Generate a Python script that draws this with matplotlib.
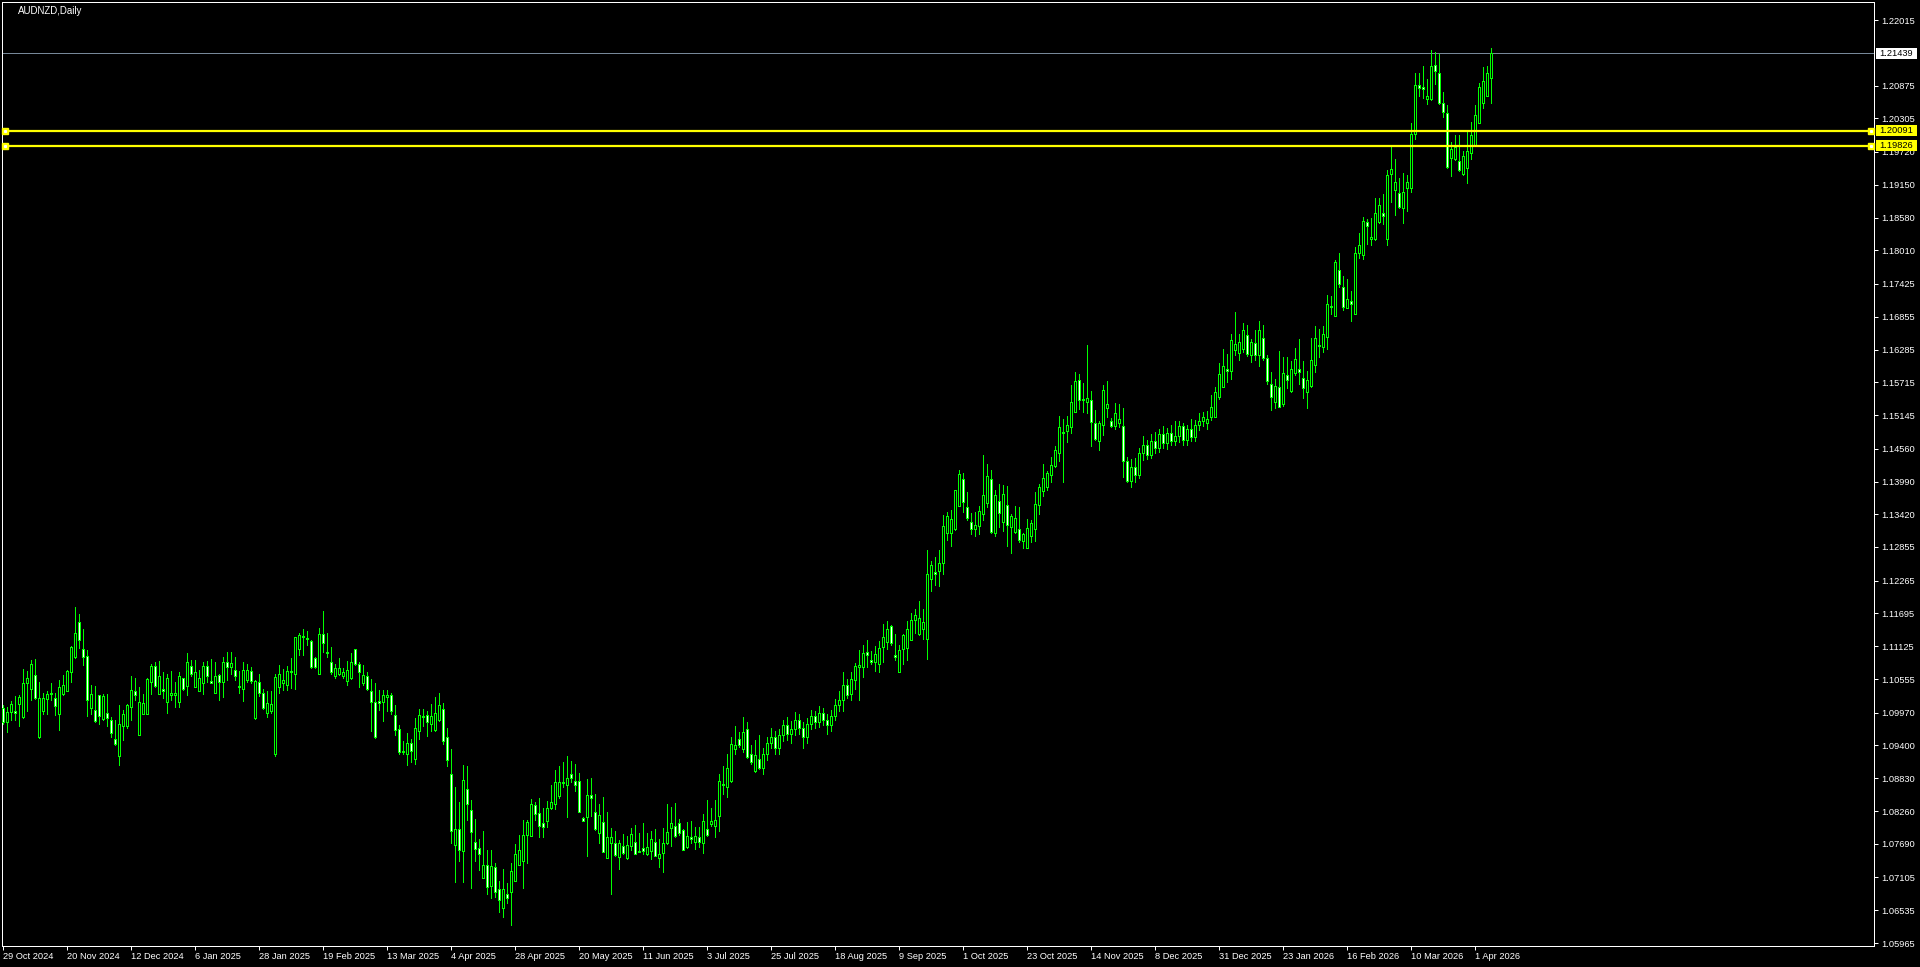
import numpy as np
import matplotlib.pyplot as plt
from matplotlib.patches import Rectangle
from matplotlib.transforms import blended_transform_factory

# AUDNZD daily candles, 29 Oct 2024 .. 7 Apr 2026
opens = [
    1.1005, 1.0980, 1.0999, 1.1000, 1.1012, 1.0989, 1.1048, 1.1038, 1.1062, 1.0955,
    1.1000, 1.1021, 1.1029, 1.1022, 1.0995, 1.1029, 1.1035, 1.1068, 1.1093, 1.1154,
    1.1107, 1.1096, 1.1006, 1.1002, 1.1027, 1.0986, 1.0996, 1.0985, 1.0952, 1.0922,
    1.0974, 1.0973, 1.1007, 1.1034, 1.0959, 1.0995, 1.0995, 1.1051, 1.1078, 1.1030,
    1.1038, 1.1016, 1.1027, 1.1028, 1.1016, 1.1057, 1.1044, 1.1078, 1.1042, 1.1035,
    1.1049, 1.1078, 1.1052, 1.1032, 1.1062, 1.1050, 1.1086, 1.1077, 1.1072, 1.1043,
    1.1039, 1.1053, 1.1069, 1.0987, 1.1050, 1.1032, 1.0997, 1.1000, 1.0926, 1.1042,
    1.1048, 1.1046, 1.1067, 1.1065, 1.1108, 1.1130, 1.1127, 1.1121, 1.1092, 1.1065,
    1.1133, 1.1103, 1.1085, 1.1060, 1.1064, 1.1060, 1.1052, 1.1057, 1.1107, 1.1081,
    1.1049, 1.1060, 1.1034, 1.1015, 1.1017, 1.1016, 1.1025, 1.1028, 1.0993, 1.0968,
    1.0930, 1.0926, 1.0944, 1.0916, 1.0966, 1.0990, 1.0993, 1.0978, 1.0967, 1.0984,
    1.1004, 1.0955, 1.0890, 1.0767, 1.0794, 1.0757, 1.0865, 1.0827, 1.0772, 1.0761,
    1.0710, 1.0733, 1.0695, 1.0728, 1.0690, 1.0658, 1.0681, 1.0686, 1.0705, 1.0733,
    1.0739, 1.0784, 1.0783, 1.0836, 1.0822, 1.0806, 1.0809, 1.0832, 1.0838, 1.0853,
    1.0876, 1.0872, 1.0890, 1.0878, 1.0879, 1.0814, 1.0816, 1.0854, 1.0825, 1.0788,
    1.0807, 1.0745, 1.0770, 1.0770, 1.0746, 1.0765, 1.0744, 1.0766, 1.0773, 1.0757,
    1.0761, 1.0751, 1.0757, 1.0773, 1.0745, 1.0753, 1.0770, 1.0797, 1.0800, 1.0805,
    1.0793, 1.0763, 1.0780, 1.0773, 1.0781, 1.0771, 1.0794, 1.0803, 1.0800, 1.0818,
    1.0873, 1.0868, 1.0878, 1.0934, 1.0951, 1.0934, 1.0968, 1.0925, 1.0895, 1.0917,
    1.0900, 1.0925, 1.0945, 1.0955, 1.0935, 1.0958, 1.0975, 1.0960, 1.0968, 1.0985,
    1.0970, 1.0955, 1.0978, 1.0992, 1.0980, 1.0996, 1.0985, 1.0975, 1.0992, 1.1010,
    1.1019, 1.1046, 1.1030, 1.1054, 1.1077, 1.1076, 1.1102, 1.1088, 1.1085, 1.1081,
    1.1112, 1.1120, 1.1148, 1.1097, 1.1068, 1.1107, 1.1110, 1.1124, 1.1158, 1.1134,
    1.1142, 1.1126, 1.1230, 1.1242, 1.1244, 1.1258, 1.1310, 1.1309, 1.1316, 1.1357,
    1.1404, 1.1354, 1.1328, 1.1316, 1.1321, 1.1342, 1.1361, 1.1404, 1.1310, 1.1365,
    1.1328, 1.1358, 1.1320, 1.1312, 1.1316, 1.1296, 1.1284, 1.1305, 1.1316, 1.1359,
    1.1383, 1.1390, 1.1411, 1.1426, 1.1448, 1.1485, 1.1486, 1.1494, 1.1520, 1.1576,
    1.1542, 1.1538, 1.1541, 1.1500, 1.1470, 1.1498, 1.1527, 1.1504, 1.1496, 1.1500,
    1.1495, 1.1435, 1.1400, 1.1425, 1.1410, 1.1448, 1.1462, 1.1445, 1.1470, 1.1458,
    1.1482, 1.1466, 1.1484, 1.1470, 1.1478, 1.1496, 1.1472, 1.1490, 1.1476, 1.1498,
    1.1505, 1.1500, 1.1512, 1.1512, 1.1546, 1.1564, 1.1594, 1.1592, 1.1628, 1.1623,
    1.1630, 1.1653, 1.1619, 1.1639, 1.1619, 1.1648, 1.1613, 1.1569, 1.1537, 1.1564,
    1.1534, 1.1585, 1.1556, 1.1587, 1.1595, 1.1579, 1.1554, 1.1565, 1.1601, 1.1636,
    1.1633, 1.1650, 1.1704, 1.1687, 1.1767, 1.1737, 1.1701, 1.1713, 1.1691, 1.1797,
    1.1793, 1.1850, 1.1820, 1.1820, 1.1851, 1.1866, 1.1821, 1.1933, 1.1906, 1.1900,
    1.1874, 1.1909, 1.1910, 1.2003, 1.2088, 1.2085, 1.2064, 1.2064, 1.2123, 1.2110,
    1.2058, 1.2039, 1.1961, 1.1959, 1.1956, 1.1933, 1.1945, 1.1971, 1.1984, 1.2023,
    1.2057, 1.2070, 1.2100,
]
highs = [
    1.1010, 1.1007, 1.1017, 1.1026, 1.1028, 1.1073, 1.1070, 1.1089, 1.1090, 1.1050,
    1.1031, 1.1035, 1.1048, 1.1031, 1.1054, 1.1062, 1.1072, 1.1113, 1.1180, 1.1169,
    1.1142, 1.1106, 1.1045, 1.1043, 1.1028, 1.1029, 1.1029, 1.0990, 1.0984, 1.1010,
    1.1002, 1.1012, 1.1061, 1.1058, 1.1042, 1.1029, 1.1058, 1.1082, 1.1085, 1.1087,
    1.1068, 1.1065, 1.1070, 1.1050, 1.1068, 1.1058, 1.1100, 1.1089, 1.1089, 1.1072,
    1.1085, 1.1087, 1.1090, 1.1086, 1.1065, 1.1094, 1.1103, 1.1103, 1.1093, 1.1070,
    1.1085, 1.1082, 1.1076, 1.1054, 1.1064, 1.1039, 1.1035, 1.1035, 1.1064, 1.1080,
    1.1073, 1.1079, 1.1092, 1.1129, 1.1135, 1.1143, 1.1139, 1.1123, 1.1094, 1.1144,
    1.1174, 1.1136, 1.1112, 1.1082, 1.1092, 1.1075, 1.1087, 1.1101, 1.1108, 1.1086,
    1.1080, 1.1068, 1.1055, 1.1049, 1.1036, 1.1036, 1.1036, 1.1031, 1.1010, 1.0976,
    1.0948, 1.0961, 1.0951, 1.0987, 1.1003, 1.1003, 1.1000, 1.1012, 1.1024, 1.1032,
    1.1013, 1.0970, 1.0934, 1.0868, 1.0841, 1.0906, 1.0904, 1.0846, 1.0813, 1.0777,
    1.0791, 1.0759, 1.0759, 1.0735, 1.0704, 1.0725, 1.0700, 1.0735, 1.0768, 1.0784,
    1.0810, 1.0810, 1.0847, 1.0842, 1.0848, 1.0832, 1.0843, 1.0871, 1.0897, 1.0904,
    1.0911, 1.0922, 1.0913, 1.0908, 1.0892, 1.0815, 1.0881, 1.0883, 1.0855, 1.0838,
    1.0850, 1.0824, 1.0796, 1.0791, 1.0775, 1.0786, 1.0782, 1.0796, 1.0802, 1.0788,
    1.0805, 1.0788, 1.0791, 1.0795, 1.0778, 1.0797, 1.0838, 1.0833, 1.0840, 1.0813,
    1.0794, 1.0807, 1.0809, 1.0799, 1.0799, 1.0821, 1.0845, 1.0832, 1.0845, 1.0890,
    1.0904, 1.0925, 1.0954, 1.0973, 1.0964, 1.0990, 1.0981, 1.0941, 1.0949, 1.0958,
    1.0935, 1.0955, 1.0970, 1.0965, 1.0968, 1.0985, 1.0990, 1.0982, 1.0998, 1.0995,
    1.0980, 1.0988, 1.1002, 1.1000, 1.1008, 1.1005, 1.0995, 1.1002, 1.1020, 1.1035,
    1.1068, 1.1055, 1.1068, 1.1084, 1.1106, 1.1114, 1.1123, 1.1104, 1.1113, 1.1121,
    1.1151, 1.1156, 1.1149, 1.1134, 1.1114, 1.1134, 1.1156, 1.1170, 1.1178, 1.1191,
    1.1177, 1.1280, 1.1261, 1.1267, 1.1280, 1.1341, 1.1346, 1.1349, 1.1385, 1.1419,
    1.1413, 1.1380, 1.1344, 1.1346, 1.1356, 1.1445, 1.1429, 1.1419, 1.1384, 1.1395,
    1.1393, 1.1391, 1.1342, 1.1356, 1.1355, 1.1310, 1.1334, 1.1332, 1.1381, 1.1395,
    1.1429, 1.1418, 1.1442, 1.1461, 1.1513, 1.1508, 1.1513, 1.1567, 1.1590, 1.1586,
    1.1570, 1.1636, 1.1556, 1.1523, 1.1505, 1.1566, 1.1573, 1.1510, 1.1536, 1.1534,
    1.1527, 1.1442, 1.1438, 1.1440, 1.1458, 1.1478, 1.1472, 1.1482, 1.1485, 1.1490,
    1.1495, 1.1492, 1.1498, 1.1505, 1.1504, 1.1500, 1.1498, 1.1508, 1.1506, 1.1518,
    1.1520, 1.1521, 1.1549, 1.1564, 1.1605, 1.1630, 1.1620, 1.1656, 1.1694, 1.1656,
    1.1674, 1.1672, 1.1646, 1.1662, 1.1678, 1.1671, 1.1619, 1.1590, 1.1578, 1.1626,
    1.1616, 1.1616, 1.1609, 1.1632, 1.1646, 1.1608, 1.1592, 1.1649, 1.1670, 1.1665,
    1.1670, 1.1723, 1.1721, 1.1784, 1.1797, 1.1757, 1.1751, 1.1731, 1.1807, 1.1831,
    1.1859, 1.1855, 1.1858, 1.1892, 1.1892, 1.1899, 1.1940, 1.1981, 1.1959, 1.1926,
    1.1936, 1.1932, 1.2022, 1.2109, 1.2110, 1.2121, 1.2099, 1.2149, 1.2145, 1.2143,
    1.2076, 1.2054, 1.1990, 1.2001, 1.2001, 1.1974, 1.2006, 1.2025, 1.2054, 1.2092,
    1.2119, 1.2121, 1.2153,
]
lows = [
    1.0978, 1.0964, 1.0984, 1.0984, 1.0973, 1.0988, 1.1000, 1.1019, 1.1021, 1.0953,
    1.0995, 1.0994, 1.1019, 1.0993, 1.0967, 1.1028, 1.1034, 1.1051, 1.1092, 1.1109,
    1.1080, 1.0991, 1.0995, 1.0981, 1.0978, 1.0984, 1.0973, 1.0955, 1.0941, 1.0906,
    1.0949, 1.0971, 1.0985, 1.1019, 1.0958, 1.0994, 1.0994, 1.1029, 1.1042, 1.1029,
    1.1023, 1.0997, 1.1019, 1.1007, 1.1007, 1.1036, 1.1028, 1.1061, 1.1041, 1.1034,
    1.1030, 1.1050, 1.1048, 1.1031, 1.1019, 1.1025, 1.1053, 1.1064, 1.1053, 1.1031,
    1.1018, 1.1050, 1.1048, 1.0986, 1.1026, 1.1003, 1.0990, 1.0997, 1.0922, 1.1031,
    1.1036, 1.1036, 1.1040, 1.1039, 1.1097, 1.1097, 1.1115, 1.1075, 1.1074, 1.1064,
    1.1102, 1.1094, 1.1065, 1.1058, 1.1063, 1.1058, 1.1045, 1.1055, 1.1080, 1.1042,
    1.1045, 1.1036, 1.0966, 1.0953, 1.1002, 1.0982, 1.1000, 1.0995, 1.0958, 1.0926,
    1.0926, 1.0906, 1.0912, 1.0908, 1.0951, 1.0973, 1.0956, 1.0965, 1.0966, 1.0983,
    1.0942, 1.0904, 1.0771, 1.0703, 1.0739, 1.0702, 1.0810, 1.0693, 1.0739, 1.0723,
    1.0709, 1.0681, 1.0674, 1.0676, 1.0651, 1.0642, 1.0666, 1.0628, 1.0704, 1.0732,
    1.0693, 1.0736, 1.0782, 1.0810, 1.0780, 1.0780, 1.0799, 1.0829, 1.0829, 1.0848,
    1.0867, 1.0816, 1.0876, 1.0860, 1.0824, 1.0808, 1.0748, 1.0818, 1.0793, 1.0771,
    1.0754, 1.0744, 1.0682, 1.0748, 1.0725, 1.0752, 1.0742, 1.0758, 1.0751, 1.0754,
    1.0751, 1.0750, 1.0742, 1.0747, 1.0729, 1.0720, 1.0769, 1.0766, 1.0781, 1.0784,
    1.0758, 1.0762, 1.0771, 1.0760, 1.0764, 1.0753, 1.0783, 1.0800, 1.0781, 1.0792,
    1.0855, 1.0851, 1.0877, 1.0925, 1.0938, 1.0928, 1.0919, 1.0908, 1.0894, 1.0899,
    1.0890, 1.0915, 1.0935, 1.0925, 1.0925, 1.0948, 1.0950, 1.0945, 1.0958, 1.0960,
    1.0935, 1.0945, 1.0968, 1.0970, 1.0972, 1.0975, 1.0960, 1.0965, 1.0985, 1.1000,
    1.1000, 1.1023, 1.1019, 1.1039, 1.1019, 1.1059, 1.1076, 1.1081, 1.1070, 1.1068,
    1.1085, 1.1107, 1.1114, 1.1088, 1.1067, 1.1081, 1.1088, 1.1123, 1.1136, 1.1132,
    1.1125, 1.1091, 1.1209, 1.1219, 1.1218, 1.1238, 1.1297, 1.1287, 1.1315, 1.1356,
    1.1346, 1.1332, 1.1308, 1.1305, 1.1308, 1.1332, 1.1354, 1.1310, 1.1305, 1.1320,
    1.1313, 1.1286, 1.1275, 1.1310, 1.1294, 1.1284, 1.1284, 1.1294, 1.1296, 1.1343,
    1.1374, 1.1385, 1.1399, 1.1425, 1.1435, 1.1399, 1.1467, 1.1484, 1.1519, 1.1525,
    1.1520, 1.1518, 1.1460, 1.1472, 1.1453, 1.1480, 1.1511, 1.1493, 1.1490, 1.1493,
    1.1406, 1.1399, 1.1390, 1.1398, 1.1405, 1.1436, 1.1438, 1.1440, 1.1448, 1.1450,
    1.1458, 1.1455, 1.1462, 1.1462, 1.1468, 1.1463, 1.1462, 1.1470, 1.1470, 1.1488,
    1.1495, 1.1490, 1.1506, 1.1511, 1.1543, 1.1563, 1.1572, 1.1578, 1.1619, 1.1611,
    1.1624, 1.1618, 1.1607, 1.1611, 1.1599, 1.1610, 1.1569, 1.1523, 1.1526, 1.1528,
    1.1530, 1.1561, 1.1555, 1.1584, 1.1569, 1.1544, 1.1526, 1.1564, 1.1590, 1.1616,
    1.1624, 1.1630, 1.1691, 1.1686, 1.1738, 1.1698, 1.1700, 1.1678, 1.1690, 1.1787,
    1.1786, 1.1812, 1.1810, 1.1819, 1.1849, 1.1846, 1.1811, 1.1885, 1.1863, 1.1874,
    1.1849, 1.1870, 1.1903, 1.1995, 1.2069, 1.2065, 1.2055, 1.2062, 1.2090, 1.2055,
    1.2032, 1.1945, 1.1931, 1.1958, 1.1939, 1.1932, 1.1918, 1.1959, 1.1983, 1.2022,
    1.2049, 1.2069, 1.2057,
]
closes = [
    1.0981, 1.0999, 1.1012, 1.0997, 1.1024, 1.1048, 1.1057, 1.1082, 1.1023, 1.1022,
    1.1022, 1.1029, 1.1032, 1.1009, 1.1041, 1.1046, 1.1069, 1.1111, 1.1135, 1.1124,
    1.1094, 1.1019, 1.1029, 1.0983, 1.0992, 1.1026, 1.0988, 1.0962, 1.0942, 1.0978,
    1.0994, 1.1010, 1.1036, 1.1028, 1.1016, 1.1013, 1.1055, 1.1078, 1.1044, 1.1060,
    1.1034, 1.1058, 1.1031, 1.1032, 1.1060, 1.1038, 1.1085, 1.1065, 1.1067, 1.1057,
    1.1079, 1.1061, 1.1049, 1.1061, 1.1051, 1.1086, 1.1077, 1.1083, 1.1060, 1.1041,
    1.1072, 1.1072, 1.1052, 1.1052, 1.1032, 1.1005, 1.1014, 1.1012, 1.1059, 1.1064,
    1.1054, 1.1069, 1.1070, 1.1128, 1.1132, 1.1128, 1.1125, 1.1076, 1.1077, 1.1133,
    1.1119, 1.1101, 1.1067, 1.1074, 1.1074, 1.1067, 1.1072, 1.1086, 1.1082, 1.1067,
    1.1062, 1.1038, 1.1016, 1.0954, 1.1014, 1.1028, 1.1028, 1.1000, 1.0967, 1.0929,
    1.0929, 1.0945, 1.0931, 1.0971, 1.0993, 1.0992, 1.0980, 1.0991, 1.0996, 1.1010,
    1.0948, 1.0915, 1.0791, 1.0794, 1.0758, 1.0880, 1.0839, 1.0790, 1.0760, 1.0752,
    1.0732, 1.0694, 1.0730, 1.0686, 1.0672, 1.0690, 1.0675, 1.0722, 1.0751, 1.0759,
    1.0784, 1.0807, 1.0838, 1.0820, 1.0800, 1.0799, 1.0831, 1.0841, 1.0876, 1.0876,
    1.0874, 1.0884, 1.0884, 1.0872, 1.0825, 1.0809, 1.0854, 1.0849, 1.0794, 1.0819,
    1.0755, 1.0781, 1.0781, 1.0749, 1.0770, 1.0753, 1.0767, 1.0786, 1.0752, 1.0755,
    1.0756, 1.0763, 1.0777, 1.0748, 1.0751, 1.0771, 1.0789, 1.0805, 1.0783, 1.0787,
    1.0759, 1.0782, 1.0777, 1.0782, 1.0773, 1.0808, 1.0784, 1.0809, 1.0810, 1.0878,
    1.0872, 1.0901, 1.0942, 1.0940, 1.0941, 1.0963, 1.0920, 1.0912, 1.0923, 1.0900,
    1.0925, 1.0945, 1.0955, 1.0935, 1.0958, 1.0975, 1.0960, 1.0968, 1.0985, 1.0970,
    1.0955, 1.0978, 1.0992, 1.0980, 1.0996, 1.0985, 1.0975, 1.0992, 1.1010, 1.1019,
    1.1045, 1.1027, 1.1056, 1.1078, 1.1080, 1.1100, 1.1097, 1.1085, 1.1099, 1.1110,
    1.1128, 1.1143, 1.1119, 1.1094, 1.1106, 1.1132, 1.1142, 1.1158, 1.1167, 1.1161,
    1.1154, 1.1239, 1.1254, 1.1239, 1.1258, 1.1321, 1.1339, 1.1333, 1.1384, 1.1412,
    1.1363, 1.1335, 1.1316, 1.1323, 1.1348, 1.1375, 1.1409, 1.1311, 1.1375, 1.1345,
    1.1377, 1.1324, 1.1339, 1.1336, 1.1298, 1.1307, 1.1319, 1.1326, 1.1360, 1.1389,
    1.1405, 1.1413, 1.1428, 1.1454, 1.1494, 1.1483, 1.1497, 1.1537, 1.1574, 1.1540,
    1.1540, 1.1545, 1.1502, 1.1473, 1.1500, 1.1558, 1.1534, 1.1496, 1.1518, 1.1508,
    1.1434, 1.1400, 1.1425, 1.1410, 1.1448, 1.1462, 1.1445, 1.1470, 1.1458, 1.1482,
    1.1466, 1.1484, 1.1470, 1.1478, 1.1496, 1.1472, 1.1490, 1.1476, 1.1498, 1.1505,
    1.1512, 1.1507, 1.1529, 1.1555, 1.1586, 1.1599, 1.1591, 1.1645, 1.1638, 1.1641,
    1.1663, 1.1620, 1.1641, 1.1619, 1.1662, 1.1613, 1.1574, 1.1546, 1.1565, 1.1529,
    1.1588, 1.1575, 1.1594, 1.1612, 1.1590, 1.1561, 1.1576, 1.1610, 1.1649, 1.1634,
    1.1656, 1.1707, 1.1703, 1.1781, 1.1743, 1.1703, 1.1717, 1.1708, 1.1797, 1.1811,
    1.1852, 1.1843, 1.1824, 1.1866, 1.1880, 1.1861, 1.1932, 1.1943, 1.1919, 1.1877,
    1.1902, 1.1919, 1.2003, 1.2088, 1.2083, 1.2081, 1.2070, 1.2121, 1.2113, 1.2057,
    1.2041, 1.1946, 1.1978, 1.1981, 1.1940, 1.1965, 1.1974, 1.2001, 1.2036, 1.2085,
    1.2096, 1.2109, 1.21439,
]

date_labels = ['29 Oct 2024', '20 Nov 2024', '12 Dec 2024', '6 Jan 2025', '28 Jan 2025',
               '19 Feb 2025', '13 Mar 2025', '4 Apr 2025', '28 Apr 2025', '20 May 2025',
               '11 Jun 2025', '3 Jul 2025', '25 Jul 2025', '18 Aug 2025', '9 Sep 2025',
               '1 Oct 2025', '23 Oct 2025', '14 Nov 2025', '8 Dec 2025', '31 Dec 2025',
               '23 Jan 2026', '16 Feb 2026', '10 Mar 2026', '1 Apr 2026']
label_step = 16  # one date label every 16 bars

price_ticks = [1.22015, 1.20875, 1.20305, 1.19720, 1.19150, 1.18580, 1.18010, 1.17425,
               1.16855, 1.16285, 1.15715, 1.15145, 1.14560, 1.13990, 1.13420, 1.12855,
               1.12265, 1.11695, 1.11125, 1.10555, 1.09970, 1.09400, 1.08830, 1.08260,
               1.07690, 1.07105, 1.06535, 1.05965]

bid = 1.21439
levels = [1.20091, 1.19826]

plt.rcParams['font.family'] = ['Liberation Sans', 'DejaVu Sans']

W, H = 1920, 967
fig = plt.figure(figsize=(W / 100, H / 100), dpi=100, facecolor='black')
ax = fig.add_axes([2 / W, 21 / H, 1872 / W, 944 / H], facecolor='black')

o = np.array(opens)
hi = np.array(highs)
lo = np.array(lows)
c = np.array(closes)
idx = np.arange(len(c))
green = '#00FF00'
px = 0.72  # one pixel in points

# wicks, then bodies (bull = black fill, bear = white fill)
ax.vlines(idx, lo, hi, color=green, lw=px, antialiased=False, zorder=2)
bull = c >= o
ax.bar(idx[bull], (c - o)[bull], bottom=o[bull], width=0.5, facecolor='black',
       edgecolor=green, lw=px, antialiased=False, zorder=3)
ax.bar(idx[~bull], (o - c)[~bull], bottom=c[~bull], width=0.5, facecolor='white',
       edgecolor=green, lw=px, antialiased=False, zorder=3)

ax.set_xlim(-0.25, 467.75)
ax.set_ylim(1.05913, 1.22328)

# bid line and the two horizontal levels
ax.axhline(bid, color='#778899', lw=px, zorder=1)
trans = blended_transform_factory(ax.transAxes, ax.transData)
for lvl in levels:
    ax.axhline(lvl, color='#FFFF00', lw=1.6, zorder=4)
    ax.plot([0.0016, 0.9984], [lvl, lvl], 's', ms=4.5, mfc='#FFFF00', mec='#FFFF00',
            transform=trans, zorder=5, clip_on=False)
    ax.plot([0.0016, 0.9984], [lvl, lvl], 's', ms=1.2, mfc='#FFFFFF', mec='#FFFFFF',
            transform=trans, zorder=6, clip_on=False)

for s in ax.spines.values():
    s.set_color('white')
    s.set_linewidth(px)

ax.yaxis.tick_right()
ax.set_yticks(price_ticks)
ax.set_yticklabels([f'{v:.5f}' for v in price_ticks])
ax.tick_params(axis='y', colors='white', length=3, width=px, pad=2, labelsize=6.7)

ax.set_xticks(np.arange(len(date_labels)) * label_step)
ax.set_xticklabels(date_labels, ha='left')
ax.tick_params(axis='x', colors='white', length=3, width=px, pad=1.5, labelsize=6.7)

# price boxes on the right scale
yr = ax.get_ylim()
half = 5.5 * (yr[1] - yr[0]) / 944
for val, bg in [(bid, 'white')] + [(lvl, '#FFFF00') for lvl in levels]:
    ax.add_patch(Rectangle((1 + 2 / 1872, val - half), 41 / 1872, 2 * half, transform=trans,
                           facecolor=bg, edgecolor='none', clip_on=False, zorder=7))
    ax.text(1 + 5 / 1872, val, f'{val:.5f}', transform=trans, ha='left', va='center',
            color='black', fontsize=6.7, zorder=8, clip_on=False)

fig.text(18 / W, 1 - 6 / H, 'AUDNZD,Daily', color='white', fontsize=7, va='top')

fig.savefig('out.png', dpi=100, facecolor='black')
